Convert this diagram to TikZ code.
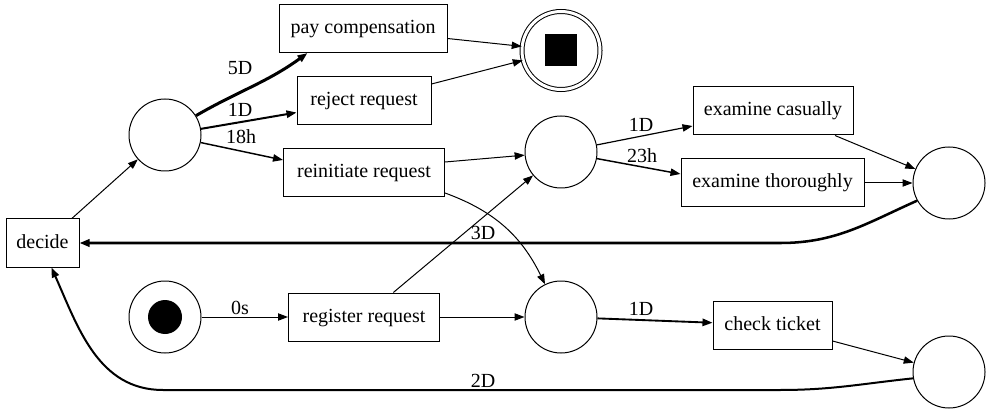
\documentclass[tikz,border=0pt]{standalone}
\usepackage{fontspec}
\setmainfont{Liberation Serif}
\usetikzlibrary{arrows.meta}

\begin{document}
\begin{tikzpicture}[x=0.75pt, y=-0.75pt, font=\fontsize{15}{17}\selectfont,
	act/.style={draw, rectangle, line width=0.75pt, minimum height=36pt, inner sep=2pt, text height=10.5pt, text depth=3pt},
	place/.style={draw, circle, line width=0.75pt, minimum size=54pt, inner sep=0pt},
	arc/.style={-{Triangle[length=7.5pt,width=5.5pt]}, line width=0.75pt},
	lbl/.style={inner sep=0pt}]
\useasboundingbox (0,0) rectangle (991,413);

\node[act, minimum width=54.75pt] (decide) at (42.5,243) {decide};
\node[place] (p1) at (165,135) {};
\node[act, minimum width=126pt] (pay) at (363,28.5) {pay compensation};
\node[act, minimum width=100.5pt] (reject) at (364,101) {reject request};
\node[act, minimum width=120.75pt] (reinit) at (364,173) {reinitiate request};
\node[draw, circle, line width=0.75pt, double, double distance=2.25pt, minimum size=58.5pt, inner sep=0pt] (end) at (561,50.5) {\rule{24pt}{24pt}};
\node[place] (p2) at (561,152) {};
\node[act, minimum width=120pt] (excas) at (773,111) {examine casually};
\node[act, minimum width=137.25pt] (exthor) at (772.5,183) {examine thoroughly};
\node[place] (p3) at (949,183) {};
\node[place, path picture={\fill (path picture bounding box.center) circle (12.75pt);}] (start) at (165,317) {};
\node[act, minimum width=113.25pt] (register) at (364,317) {register request};
\node[place] (p4) at (561,317) {};
\node[act, minimum width=89.25pt] (check) at (772.5,325) {check ticket};
\node[place] (p5) at (949,372) {};

\coordinate (b1) at (780,243);
\coordinate (b2) at (780,390);
\coordinate (b3) at (163,390);

\draw[arc] ([xshift=22pt]decide.north) -- (p1);
\draw[arc, line width=2.25pt] (p1.32) to[out=30, in=-144] ([xshift=21.75pt]pay.south west) node[lbl, at={(240,68.5)}] {5D};
\draw[arc, line width=1.5pt] (p1) -- (reject) node[lbl, at={(240,109.5)}] {1D};
\draw[arc, line width=1.1pt] (p1) -- ([yshift=9.75pt]reinit.west) node[lbl, at={(241,136.5)}] {18h};
\draw[arc] ([yshift=-7.5pt]pay.east) -- (end);
\draw[arc] ([yshift=12.75pt]reject.east) -- (end);
\draw[arc] ([yshift=8.25pt]reinit.east) -- (p2);
\draw[arc] ([yshift=-15pt]reinit.east) to[out=-20, in=116] (p4);
\draw[arc] (start) -- (register) node[lbl, at={(240,307.5)}] {0s};
\draw[arc] ([xshift=22pt]register.north) -- (p2);
\draw[arc] (register) -- (p4);
\draw[arc, line width=0.9pt] (p2) -- ([yshift=-11.25pt]excas.west) node[lbl, at={(641,124.5)}] {1D};
\draw[arc, line width=1.1pt] (p2) -- ([yshift=6.75pt]exthor.west) node[lbl, at={(642,156)}] {23h};
\draw[arc] ([xshift=46.5pt]excas.south) -- (p3);
\draw[arc] (exthor) -- (p3);
\draw[arc, line width=1.4pt] (p4) -- (check) node[lbl, at={(641,309)}] {1D};
\draw[arc] ([yshift=-12pt]check.east) -- (p5);
\draw[arc, line width=1.9pt] (p3.209) to[out=204, in=0] (b1) -- (decide) node[lbl, at={(483,233)}] {3D};
\draw[arc, line width=1.5pt] (p5.190) to[out=186, in=0] (b2) -- (b3) to[out=180, in=-66] (decide.-70) node[lbl, at={(483,380.5)}] {2D};
\end{tikzpicture}
\end{document}
